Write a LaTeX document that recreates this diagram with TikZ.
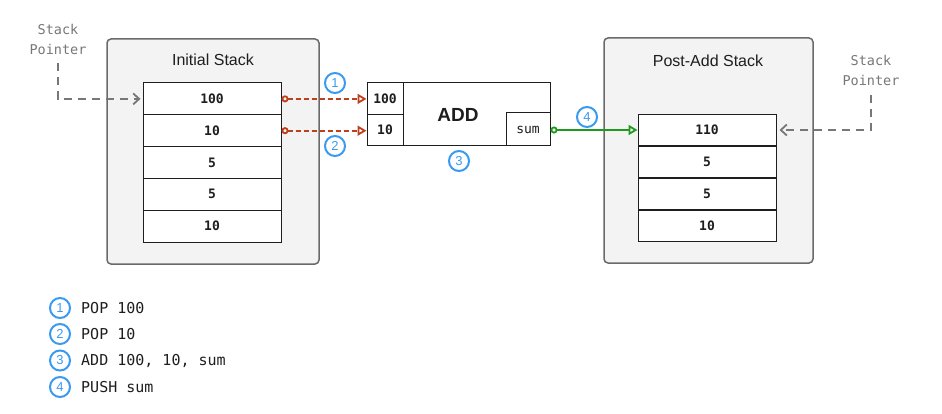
\documentclass[tikz,border=0pt]{standalone}
\usepackage{fontspec}
\setmainfont{Liberation Sans}
\newfontfamily\monofont{DejaVu Sans Mono}
\usetikzlibrary{arrows.meta}
\definecolor{panelfill}{HTML}{F3F3F3}
\definecolor{panelline}{HTML}{6A6A6A}
\definecolor{ink}{HTML}{1E1E1E}
\definecolor{pointergray}{HTML}{777777}
\definecolor{popred}{HTML}{BF3F1C}
\definecolor{pushgreen}{HTML}{1E9A1E}
\definecolor{stepblue}{HTML}{3A9AF0}
\tikzset{
  panel/.style={draw=panelline, fill=panelfill, line width=1.5pt, rounded corners=4pt, inner sep=0pt},
  paneltitle/.style={text=ink, font=\fontsize{16}{18}\selectfont},
  cell/.style={draw=ink, fill=white, line width=1pt, inner sep=0pt,
    minimum width=138pt, minimum height=31.8pt, text=ink,
    font=\monofont\bfseries\fontsize{13}{15}\selectfont},
  port/.style={draw=ink, fill=white, line width=1pt, inner sep=0pt, text=ink,
    font=\monofont\bfseries\fontsize{13}{15}\selectfont},
  pointerlabel/.style={text=pointergray, align=center,
    font=\monofont\fontsize{13.5}{20}\selectfont},
  pointerline/.style={draw=pointergray, line width=1.8pt, dash pattern=on 8pt off 6pt,
    -{Straight Barb[length=6pt,width=11pt]}},
  popline/.style={draw=popred, line width=1.8pt, dash pattern=on 5pt off 3pt,
    {Circle[open,length=7pt,width=7pt]}-{Triangle[open,length=9pt,width=10pt]}},
  pushline/.style={draw=pushgreen, line width=1.8pt,
    {Circle[open,length=7pt,width=7pt]}-{Triangle[open,length=9pt,width=10pt]}},
  stepmark/.style={circle, draw=stepblue, line width=2pt, minimum size=20pt, inner sep=0pt,
    text=stepblue, font=\fontsize{13}{14}\selectfont},
  legendtext/.style={anchor=west, text=ink, inner sep=0pt,
    font=\monofont\fontsize{15}{17}\selectfont},
}
\begin{document}
\begin{tikzpicture}[x=1pt, y=-1pt]
\useasboundingbox (0,0) rectangle (942,414);

% left panel: stack before the add
\node[panel, minimum width=212pt, minimum height=225pt] (lpanel) at (213,151.5) {};
\node[paneltitle] (ltitle) at (213,60) {Initial Stack};
\node[cell] (l1) at (212,98.9) {100};
\node[cell] (l2) at (212,130.7) {10};
\node[cell] (l3) at (212,162.5) {5};
\node[cell] (l4) at (212,194.3) {5};
\node[cell] (l5) at (212,226.1) {10};

% right panel: stack after the add
\node[panel, minimum width=209pt, minimum height=225pt] (rpanel) at (708.5,150.5) {};
\node[paneltitle] (rtitle) at (708,61) {Post-Add Stack};
\node[cell] (r1) at (707,130) {110};
\node[cell] (r2) at (707,162) {5};
\node[cell] (r3) at (707,194) {5};
\node[cell] (r4) at (707,226) {10};

% the ADD unit with its ports
\node[draw=ink, fill=white, line width=1pt, minimum width=183pt, minimum height=63pt,
  inner sep=0pt] (add) at (458.5,114.5) {};
\node[text=ink, font=\bfseries\fontsize{19}{21}\selectfont] (addlabel) at (458,115) {ADD};
\node[port, minimum width=36pt, minimum height=31.5pt] (in1) at (385,98.75) {100};
\node[port, minimum width=36pt, minimum height=31.5pt] (in2) at (385,130.25) {10};
\node[port, minimum width=44pt, minimum height=33pt,
  font=\monofont\fontsize{13}{15}\selectfont] (sum) at (528,129.5) {sum};

% stack pointers
\node[pointerlabel] (lsp) at (58,39) {Stack\\Pointer};
\coordinate (lspfoot) at (58,63);
\draw[pointerline, shorten >=2pt] (lspfoot) |- (l1.west);
\node[pointerlabel] (rsp) at (871,70.5) {Stack\\Pointer};
\coordinate (rspfoot) at (871,95);
\draw[pointerline, shorten >=3pt] (rspfoot) |- (r1.east);

% data flow
\draw[popline] (l1.east) -- (l1.east -| in1.west);
\draw[popline] (l2.east) -- (l2.east -| in2.west);
\draw[pushline] (sum.east |- r1.west) -- (r1.west);

% step markers
\node[stepmark] (s1) at (335,83) {1};
\node[stepmark] (s2) at (335,146) {2};
\node[stepmark] (s3) at (459,161) {3};
\node[stepmark] (s4) at (587,117) {4};

% legend
\node[stepmark] (k1) at (60,308) {1};
\node[stepmark] (k2) at (60,334) {2};
\node[stepmark] (k3) at (60,360.5) {3};
\node[stepmark] (k4) at (60,387) {4};
\node[legendtext] (t1) at (81,308) {POP 100};
\node[legendtext] (t2) at (81,334) {POP 10};
\node[legendtext] (t3) at (81,360.5) {ADD 100, 10, sum};
\node[legendtext] (t4) at (81,387) {PUSH sum};
\end{tikzpicture}
\end{document}
